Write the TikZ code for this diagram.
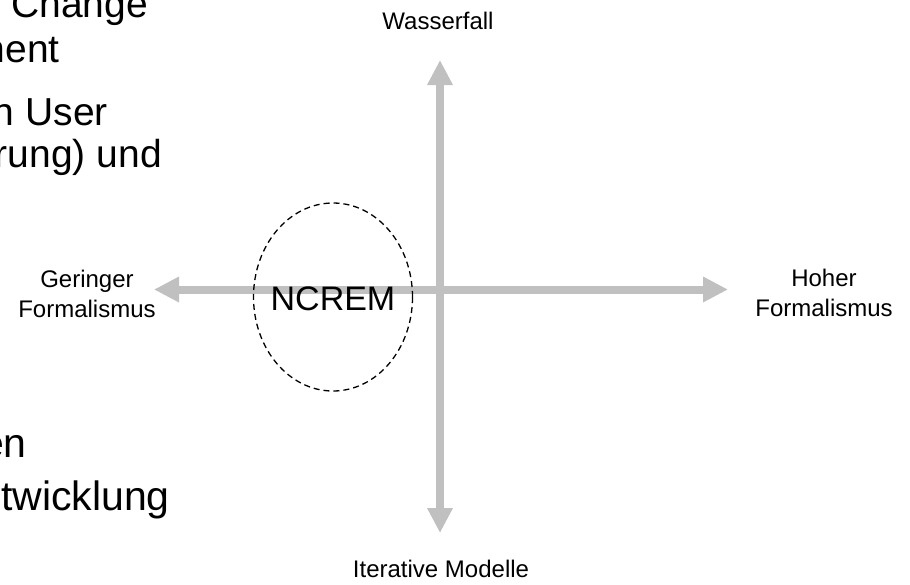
\documentclass[tikz,border=0pt]{standalone}
\usepackage{fontspec}
\setmainfont{Liberation Sans}
\usetikzlibrary{arrows.meta,shapes.geometric}
\definecolor{axisgray}{RGB}{192,192,192}
\tikzset{
  axis/.style={draw=axisgray, line width=8pt,
    {Triangle[length=25pt,width=24pt]}-{Triangle[length=25pt,width=24pt]}},
  lbl/.style={inner sep=0pt, align=center, font=\fontsize{24}{30}\selectfont},
  bigtxt/.style={inner sep=0pt, anchor=base east, font=\fontsize{39}{45}\selectfont},
  bigtxtlow/.style={inner sep=0pt, anchor=base east, font=\fontsize{41}{48}\selectfont},
  focus/.style={ellipse, draw=black, dash pattern=on 6pt off 4pt, line width=1.3pt,
    minimum width=159pt, minimum height=188pt, inner sep=0pt},
  focustxt/.style={inner sep=0pt, anchor=base, font=\fontsize{34}{40}\selectfont}
}
\begin{document}
\begin{tikzpicture}[x=1pt,y=-1pt]
\useasboundingbox[fill=white] (0,0) rectangle (910,584);
% axes
\coordinate (vtop) at (440,60);
\coordinate (vbot) at (440,533);
\coordinate (hleft) at (154,289.5);
\coordinate (hright) at (728,289.5);
\draw[axis] (hleft) -- (hright);
\draw[axis] (vbot) -- (vtop);
% axis labels
\node[lbl, anchor=base] (wf) at (438,29) {Wasserfall};
\node[lbl, anchor=base] (it) at (441,577) {Iterative Modelle};
\node[lbl, anchor=north] (gf) at (87,270) {Geringer\\Formalismus};
\node[lbl, anchor=north] (hf) at (824,269) {Hoher\\Formalismus};
% NCREM
\node[focus] (ncrem) at (333,297) {};
\node[focustxt] (ncremtxt) at (333,310) {NCREM};
% cut-off slide text at the left
\node[bigtxt] (t1) at (148,17) {Change};
\node[bigtxt] (t2) at (60,62) {nent};
\node[bigtxt] (t3) at (108,125) {n User};
\node[bigtxt] (t4) at (162,167) {rung) und};
\node[bigtxtlow] (t5) at (27,457) {en};
\node[bigtxtlow] (t6) at (170,510) {twicklung};
\end{tikzpicture}
\end{document}
